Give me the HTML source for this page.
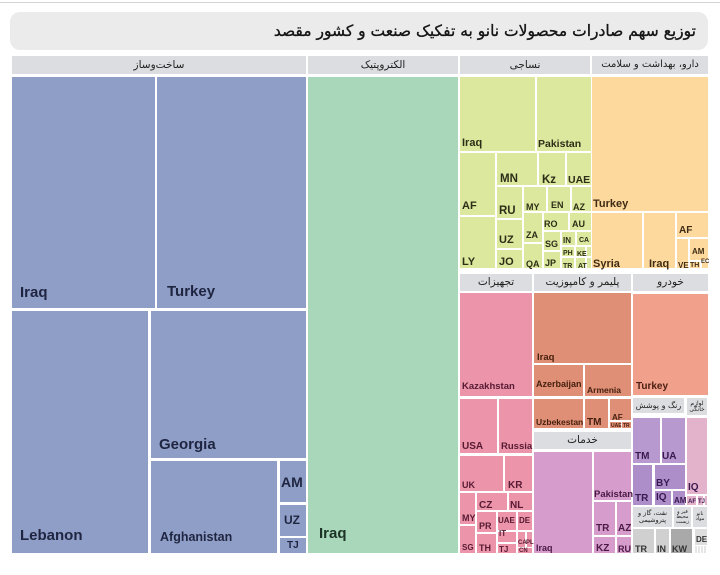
<!DOCTYPE html>
<html><head><meta charset="utf-8">
<style>
*{margin:0;padding:0;box-sizing:border-box}
html,body{width:720px;height:575px;background:#fff;overflow:hidden}
body{position:relative;font-family:"Liberation Sans",sans-serif}
.t{position:absolute}
.h{position:absolute;background:#dcdde0;color:#1e1e1e;font-family:"DejaVu Sans",sans-serif;font-size:10.5px;display:flex;align-items:center;justify-content:center;text-align:center;direction:rtl;line-height:1}
.l{position:absolute;font-weight:bold;line-height:1;white-space:nowrap}
.b{background:#8f9ec7}.b .l,.lb{color:#1f2540}
.g{background:#a8d8b9}
.y{background:#dbe89d}
.o{background:#fed99e}
.p{background:#ec94a9}
.m{background:#de8f75}
.s{background:#d69ccb}
.k{background:#f1a18b}
.v{background:#b899cf}
.v2{background:#ad8ec8}
.q{background:#e3b2cb}
.gr{background:#d0d0d0}
.gd{background:#a9a9a9}
.gl{background:#dedede}
</style></head><body>
<div class="t" style="left:0;top:2px;width:720px;height:1px;background:#d4d4d4"></div>
<div class="t" style="left:10px;top:12px;width:698px;height:38px;background:#ebebeb;border-radius:10px"></div>
<div class="t" style="left:200px;top:18px;width:496px;height:26px;direction:rtl;text-align:right;font-family:'DejaVu Sans',sans-serif;font-size:15.5px;line-height:26px;color:#141414;white-space:nowrap;-webkit-text-stroke:0.35px #141414">توزیع سهم صادرات محصولات نانو به تفکیک صنعت و کشور مقصد</div>

<!-- headers row1 -->
<div class="h" style="left:12px;top:56px;width:294px;height:18px">ساخت‌وساز</div>
<div class="h" style="left:308px;top:56px;width:150px;height:18px">الکتروپتیک</div>
<div class="h" style="left:460px;top:56px;width:130px;height:18px">نساجی</div>
<div class="h" style="left:592px;top:56px;width:116px;height:18px;font-size:10px">دارو، بهداشت و سلامت</div>

<!-- blue -->
<div class="t b" style="left:12px;top:77px;width:143px;height:231px"></div>
<div class="t b" style="left:157px;top:77px;width:149px;height:231px"></div>
<div class="t b" style="left:12px;top:311px;width:136px;height:242px"></div>
<div class="t b" style="left:151px;top:311px;width:155px;height:147px"></div>
<div class="t b" style="left:151px;top:461px;width:126px;height:92px"></div>
<div class="t b" style="left:280px;top:461px;width:26px;height:41px"></div>
<div class="t b" style="left:280px;top:505px;width:26px;height:31px"></div>
<div class="t b" style="left:280px;top:538px;width:26px;height:15px"></div>
<span class="l lb" style="left:20px;top:285px;font-size:15px">Iraq</span>
<span class="l lb" style="left:167px;top:284px;font-size:15px">Turkey</span>
<span class="l lb" style="left:20px;top:528px;font-size:15px">Lebanon</span>
<span class="l lb" style="left:159px;top:437px;font-size:15px">Georgia</span>
<span class="l lb" style="left:160px;top:531px;font-size:12.5px">Afghanistan</span>
<span class="l lb" style="left:281px;top:475px;font-size:14px">AM</span>
<span class="l lb" style="left:284px;top:514px;font-size:12px">UZ</span>
<span class="l lb" style="left:287px;top:541px;font-size:10px">TJ</span>

<!-- green -->
<div class="t g" style="left:308px;top:77px;width:150px;height:476px"></div>
<span class="l" style="left:319px;top:526px;font-size:15px;color:#1d3326">Iraq</span>

<!-- textile -->
<div class="t y" style="left:460px;top:77px;width:75px;height:74px"></div>
<div class="t y" style="left:537px;top:77px;width:54px;height:74px"></div>
<div class="t y" style="left:460px;top:153px;width:35px;height:62px"></div>
<div class="t y" style="left:460px;top:217px;width:35px;height:51px"></div>
<div class="t y" style="left:497px;top:153px;width:40px;height:32px"></div>
<div class="t y" style="left:539px;top:153px;width:26px;height:32px"></div>
<div class="t y" style="left:567px;top:153px;width:24px;height:32px"></div>
<div class="t y" style="left:497px;top:187px;width:25px;height:31px"></div>
<div class="t y" style="left:497px;top:220px;width:25px;height:28px"></div>
<div class="t y" style="left:497px;top:250px;width:25px;height:18px"></div>
<div class="t y" style="left:524px;top:187px;width:22px;height:24px"></div>
<div class="t y" style="left:548px;top:187px;width:22px;height:24px"></div>
<div class="t y" style="left:572px;top:187px;width:19px;height:24px"></div>
<div class="t y" style="left:524px;top:213px;width:18px;height:29px"></div>
<div class="t y" style="left:524px;top:244px;width:18px;height:24px"></div>
<div class="t y" style="left:544px;top:213px;width:24px;height:17px"></div>
<div class="t y" style="left:570px;top:213px;width:21px;height:17px"></div>
<div class="t y" style="left:544px;top:232px;width:16px;height:18px"></div>
<div class="t y" style="left:544px;top:252px;width:16px;height:16px"></div>
<div class="t y" style="left:562px;top:232px;width:13px;height:13px"></div>
<div class="t y" style="left:577px;top:232px;width:14px;height:13px"></div>
<div class="t y" style="left:562px;top:247px;width:12px;height:9px"></div>
<div class="t y" style="left:576px;top:247px;width:9px;height:9px"></div>
<div class="t y" style="left:587px;top:247px;width:4px;height:9px"></div>
<div class="t y" style="left:562px;top:258px;width:12px;height:10px"></div>
<div class="t y" style="left:576px;top:258px;width:9px;height:10px"></div>
<div class="t y" style="left:587px;top:258px;width:4px;height:10px"></div>
<div style="color:#2d2d18">
<span class="l" style="left:462px;top:138px;font-size:11px">Iraq</span>
<span class="l" style="left:538px;top:139px;font-size:10.5px">Pakistan</span>
<span class="l" style="left:462px;top:201px;font-size:11px">AF</span>
<span class="l" style="left:462px;top:257px;font-size:11px">LY</span>
<span class="l" style="left:500px;top:174px;font-size:11.5px">MN</span>
<span class="l" style="left:542px;top:175px;font-size:11.5px">Kz</span>
<span class="l" style="left:568px;top:175px;font-size:10.5px">UAE</span>
<span class="l" style="left:499px;top:206px;font-size:11.5px">RU</span>
<span class="l" style="left:499px;top:235px;font-size:11px">UZ</span>
<span class="l" style="left:499px;top:257px;font-size:11px">JO</span>
<span class="l" style="left:526px;top:203px;font-size:9px">MY</span>
<span class="l" style="left:551px;top:201px;font-size:9px">EN</span>
<span class="l" style="left:573px;top:203px;font-size:9px">AZ</span>
<span class="l" style="left:526px;top:231px;font-size:9px">ZA</span>
<span class="l" style="left:526px;top:260px;font-size:9px">QA</span>
<span class="l" style="left:544px;top:220px;font-size:9px">RO</span>
<span class="l" style="left:572px;top:220px;font-size:9px">AU</span>
<span class="l" style="left:545px;top:240px;font-size:9px">SG</span>
<span class="l" style="left:545px;top:259px;font-size:9px">JP</span>
<span class="l" style="left:563px;top:237px;font-size:8px">IN</span>
<span class="l" style="left:579px;top:237px;font-size:7px">CA</span>
<span class="l" style="left:563px;top:250px;font-size:7px">PH</span>
<span class="l" style="left:577px;top:251px;font-size:7px">KE</span>
<span class="l" style="left:563px;top:263px;font-size:7px">TR</span>
<span class="l" style="left:578px;top:263px;font-size:7px">AT</span>
</div>

<!-- pharma -->
<div class="t o" style="left:592px;top:77px;width:116px;height:134px"></div>
<div class="t o" style="left:592px;top:213px;width:50px;height:55px"></div>
<div class="t o" style="left:644px;top:213px;width:31px;height:55px"></div>
<div class="t o" style="left:677px;top:213px;width:31px;height:24px"></div>
<div class="t o" style="left:677px;top:239px;width:11px;height:29px"></div>
<div class="t o" style="left:690px;top:239px;width:18px;height:21px"></div>
<div class="t o" style="left:690px;top:262px;width:10px;height:6px"></div>
<div class="t o" style="left:702px;top:262px;width:6px;height:6px"></div>
<div style="color:#3f2c14">
<span class="l" style="left:593px;top:199px;font-size:11px">Turkey</span>
<span class="l" style="left:593px;top:259px;font-size:11px">Syria</span>
<span class="l" style="left:649px;top:259px;font-size:11px">Iraq</span>
<span class="l" style="left:679px;top:226px;font-size:10px">AF</span>
<span class="l" style="left:678px;top:262px;font-size:8px">VE</span>
<span class="l" style="left:692px;top:248px;font-size:8px">AM</span>
<span class="l" style="left:690px;top:262px;font-size:7px">TH</span>
<span class="l" style="left:701px;top:259px;font-size:6px">EC</span>
</div>

<!-- headers row2 -->
<div class="h" style="left:460px;top:274px;width:72px;height:17px">تجهیزات</div>
<div class="h" style="left:534px;top:274px;width:97px;height:17px">پلیمر و کامپوزیت</div>
<div class="h" style="left:633px;top:274px;width:75px;height:17px">خودرو</div>

<!-- equipment -->
<div class="t p" style="left:460px;top:293px;width:72px;height:103px"></div>
<div class="t p" style="left:460px;top:399px;width:37px;height:54px"></div>
<div class="t p" style="left:499px;top:399px;width:33px;height:54px"></div>
<div class="t p" style="left:460px;top:456px;width:43px;height:35px"></div>
<div class="t p" style="left:505px;top:456px;width:27px;height:35px"></div>
<div class="t p" style="left:460px;top:493px;width:15px;height:31px"></div>
<div class="t p" style="left:460px;top:526px;width:15px;height:27px"></div>
<div class="t p" style="left:477px;top:493px;width:30px;height:17px"></div>
<div class="t p" style="left:509px;top:493px;width:23px;height:17px"></div>
<div class="t p" style="left:477px;top:512px;width:19px;height:20px"></div>
<div class="t p" style="left:477px;top:534px;width:19px;height:19px"></div>
<div class="t p" style="left:498px;top:512px;width:18px;height:18px"></div>
<div class="t p" style="left:518px;top:512px;width:14px;height:18px"></div>
<div class="t p" style="left:498px;top:532px;width:18px;height:10px"></div>
<div class="t p" style="left:498px;top:544px;width:18px;height:9px"></div>
<div class="t p" style="left:518px;top:532px;width:7px;height:15px"></div>
<div class="t p" style="left:527px;top:532px;width:5px;height:15px"></div>
<div class="t p" style="left:518px;top:548px;width:14px;height:5px"></div>
<div style="color:#561a33">
<span class="l" style="left:462px;top:382px;font-size:9.5px">Kazakhstan</span>
<span class="l" style="left:462px;top:442px;font-size:10px">USA</span>
<span class="l" style="left:501px;top:442px;font-size:9.5px">Russia</span>
<span class="l" style="left:462px;top:481px;font-size:9px">UK</span>
<span class="l" style="left:508px;top:481px;font-size:10px">KR</span>
<span class="l" style="left:462px;top:514px;font-size:9px">MY</span>
<span class="l" style="left:462px;top:544px;font-size:8px">SG</span>
<span class="l" style="left:479px;top:501px;font-size:10px">CZ</span>
<span class="l" style="left:510px;top:501px;font-size:10px">NL</span>
<span class="l" style="left:479px;top:522px;font-size:9px">PR</span>
<span class="l" style="left:479px;top:544px;font-size:9px">TH</span>
<span class="l" style="left:498px;top:517px;font-size:8px">UAE</span>
<span class="l" style="left:519px;top:517px;font-size:8px">DE</span>
<span class="l" style="left:499px;top:530px;font-size:8px">IT</span>
<span class="l" style="left:499px;top:546px;font-size:8px">TJ</span>
<span class="l" style="left:518px;top:540px;font-size:6px">CA</span>
<span class="l" style="left:526px;top:540px;font-size:6px">PL</span>
<span class="l" style="left:519px;top:548px;font-size:6px">CN</span>
</div>

<!-- polymer -->
<div class="t m" style="left:534px;top:293px;width:97px;height:70px"></div>
<div class="t m" style="left:534px;top:365px;width:49px;height:31px"></div>
<div class="t m" style="left:585px;top:365px;width:46px;height:31px"></div>
<div class="t m" style="left:534px;top:399px;width:49px;height:29px"></div>
<div class="t m" style="left:585px;top:399px;width:23px;height:29px"></div>
<div class="t m" style="left:610px;top:399px;width:21px;height:21px"></div>
<div class="t m" style="left:610px;top:422px;width:11px;height:6px"></div>
<div class="t m" style="left:622px;top:422px;width:9px;height:6px"></div>
<div style="color:#47200f">
<span class="l" style="left:537px;top:353px;font-size:9.5px">Iraq</span>
<span class="l" style="left:536px;top:380px;font-size:9px">Azerbaijan</span>
<span class="l" style="left:587px;top:386px;font-size:8.5px">Armenia</span>
<span class="l" style="left:536px;top:418px;font-size:8.5px">Uzbekestan</span>
<span class="l" style="left:587px;top:418px;font-size:10px">TM</span>
<span class="l" style="left:612px;top:414px;font-size:8px">AF</span>
<span class="l" style="left:611px;top:424px;font-size:5px">UAE TR</span>
</div>

<!-- services -->
<div class="h" style="left:534px;top:432px;width:97px;height:17px">خدمات</div>
<div class="t s" style="left:534px;top:452px;width:58px;height:101px"></div>
<div class="t s" style="left:594px;top:452px;width:37px;height:48px"></div>
<div class="t s" style="left:594px;top:502px;width:21px;height:33px"></div>
<div class="t s" style="left:617px;top:502px;width:14px;height:33px"></div>
<div class="t s" style="left:594px;top:537px;width:21px;height:16px"></div>
<div class="t s" style="left:617px;top:537px;width:14px;height:16px"></div>
<div style="color:#4a1a44">
<span class="l" style="left:536px;top:544px;font-size:9px">Iraq</span>
<span class="l" style="left:594px;top:490px;font-size:9.5px">Pakistan</span>
<span class="l" style="left:596px;top:524px;font-size:10px">TR</span>
<span class="l" style="left:618px;top:524px;font-size:10px">AZ</span>
<span class="l" style="left:596px;top:544px;font-size:10px">KZ</span>
<span class="l" style="left:618px;top:545px;font-size:9px">RU</span>
</div>

<!-- khodro -->
<div class="t k" style="left:633px;top:294px;width:75px;height:101px"></div>
<span class="l" style="left:636px;top:382px;font-size:10px;color:#4a1e12">Turkey</span>

<!-- paint & home appliance -->
<div class="h" style="left:633px;top:398px;width:51px;height:15px;font-size:8px">رنگ و پوشش</div>
<div class="h" style="left:687px;top:398px;width:20px;height:17px;font-size:6px;line-height:1">لوازم<br>خانگی</div>
<div class="t v" style="left:633px;top:418px;width:27px;height:45px"></div>
<div class="t v" style="left:662px;top:418px;width:23px;height:45px"></div>
<div class="t v2" style="left:633px;top:465px;width:19px;height:40px"></div>
<div class="t v2" style="left:655px;top:465px;width:30px;height:24px"></div>
<div class="t v2" style="left:655px;top:491px;width:16px;height:14px"></div>
<div class="t v2" style="left:673px;top:491px;width:12px;height:14px"></div>
<div class="t q" style="left:687px;top:418px;width:20px;height:76px"></div>
<div class="t q" style="left:687px;top:496px;width:9px;height:9px"></div>
<div class="t q" style="left:698px;top:496px;width:5px;height:9px"></div>
<div class="t q" style="left:705px;top:496px;width:2px;height:9px"></div>
<div style="color:#3a1850">
<span class="l" style="left:635px;top:452px;font-size:10px">TM</span>
<span class="l" style="left:662px;top:452px;font-size:10px">UA</span>
<span class="l" style="left:635px;top:494px;font-size:10px">TR</span>
<span class="l" style="left:656px;top:479px;font-size:10px">BY</span>
<span class="l" style="left:656px;top:493px;font-size:10px">IQ</span>
<span class="l" style="left:674px;top:497px;font-size:8px">AM</span>
<span class="l" style="left:688px;top:483px;font-size:10px">IQ</span>
<span class="l" style="left:688px;top:499px;font-size:6px">AF</span>
<span class="l" style="left:698px;top:499px;font-size:6px">TJ</span>
</div>

<!-- gray -->
<div class="h" style="left:633px;top:507px;width:39px;height:20px;font-size:6.5px;line-height:1.05">نفت، گاز و<br>پتروشیمی</div>
<div class="h" style="left:674px;top:507px;width:17px;height:20px;font-size:5px;line-height:1">قیر و<br>محیط<br>زیست</div>
<div class="h" style="left:693px;top:507px;width:14px;height:20px;font-size:5px;line-height:1">نانو<br>مواد</div>
<div class="t gr" style="left:633px;top:529px;width:21px;height:24px"></div>
<div class="t gr" style="left:656px;top:529px;width:13px;height:24px"></div>
<div class="t gd" style="left:671px;top:529px;width:21px;height:24px"></div>
<div class="t gl" style="left:695px;top:529px;width:12px;height:16px"></div>
<div class="t" style="left:695px;top:546px;width:12px;height:7px;background:repeating-linear-gradient(90deg,#e6e6e6 0 2px,#fff 2px 3px)"></div>
<div style="color:#333">
<span class="l" style="left:635px;top:545px;font-size:9px">TR</span>
<span class="l" style="left:657px;top:545px;font-size:9px">IN</span>
<span class="l" style="left:672px;top:545px;font-size:9px">KW</span>
<span class="l" style="left:696px;top:536px;font-size:8px">DE</span>
</div>
</body></html>
